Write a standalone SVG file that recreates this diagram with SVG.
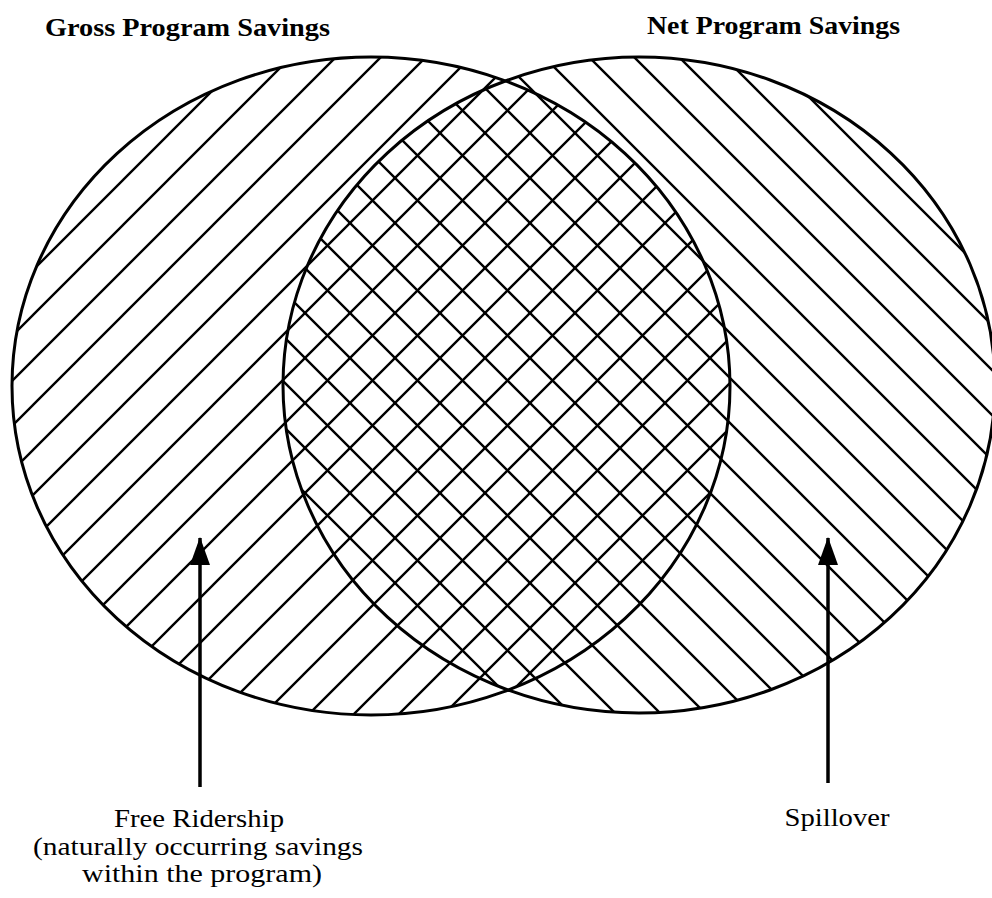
<svg xmlns="http://www.w3.org/2000/svg" width="992" height="898" viewBox="0 0 992 898">
  <style>
    .ring { fill: none; stroke: #000; stroke-width: 3; }
    .hatch { stroke: #000; stroke-width: 2.4; fill: none; }
    .title { font-family: "Liberation Serif", "Times New Roman", serif; font-weight: bold; font-size: 26px; fill: #000; }
    .label { font-family: "Liberation Serif", "Times New Roman", serif; font-size: 25px; fill: #000; text-anchor: middle; }
    .arrow { stroke: #000; stroke-width: 3.5; fill: none; }
  </style>
  <defs>
    <pattern id="fwd" patternUnits="userSpaceOnUse" x="33" y="0" width="45" height="45">
      <path class="hatch" d="M-5,5 L5,-5 M0,45 L45,0 M40,50 L50,40"/>
    </pattern>
    <pattern id="back" patternUnits="userSpaceOnUse" x="37" y="0" width="45" height="45">
      <path class="hatch" d="M0,0 L45,45 M-5,40 L5,50 M40,-5 L50,5"/>
    </pattern>
    <marker id="head" viewBox="0 0 28 20" refX="27" refY="10" markerWidth="28" markerHeight="20" markerUnits="userSpaceOnUse" orient="auto">
      <path d="M28,10 L0,0 L0,20 Z" fill="#000"/>
    </marker>
  </defs>

  <g id="gross">
    <ellipse cx="371" cy="386" rx="359" ry="329" fill="url(#fwd)"/>
  </g>
  <g id="net">
    <ellipse cx="639" cy="385" rx="356" ry="328" fill="url(#back)"/>
  </g>
  <g id="outlines">
    <ellipse class="ring" cx="371" cy="386" rx="359" ry="329"/>
    <ellipse class="ring" cx="639" cy="385" rx="356" ry="328"/>
  </g>

  <g id="titles">
    <text id="gross-title" class="title" x="45" y="36" textLength="285" lengthAdjust="spacingAndGlyphs">Gross Program Savings</text>
    <text id="net-title" class="title" x="647" y="34" textLength="253" lengthAdjust="spacingAndGlyphs">Net Program Savings</text>
  </g>

  <g id="connectors">
    <line class="arrow" x1="200" y1="787" x2="200" y2="538" marker-end="url(#head)"/>
    <line class="arrow" x1="828" y1="783" x2="828" y2="538" marker-end="url(#head)"/>
  </g>

  <g id="free-ridership">
    <text class="label" x="199" y="827" textLength="170" lengthAdjust="spacingAndGlyphs">Free Ridership</text>
    <text class="label" x="198" y="855" textLength="330" lengthAdjust="spacingAndGlyphs">(naturally occurring savings</text>
    <text class="label" x="202" y="882" textLength="240" lengthAdjust="spacingAndGlyphs">within the program)</text>
  </g>
  <g id="spillover">
    <text class="label" x="837" y="826" textLength="105" lengthAdjust="spacingAndGlyphs">Spillover</text>
  </g>
</svg>
